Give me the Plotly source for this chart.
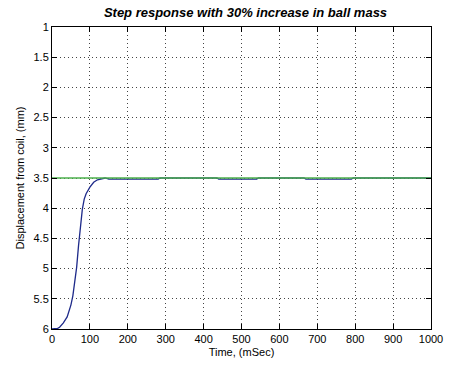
import plotly.graph_objects as go

# Step response (time in mSec, displacement in mm)
time_ms = [0, 10, 15, 20, 30, 40, 50, 55, 60, 65, 70, 75, 80, 85, 90, 100, 110, 120, 130, 140,
           150, 280, 285, 435, 440, 540, 545, 665, 670, 790, 795, 1000]
displacement_mm = [6.0, 6.0, 5.99, 5.97, 5.9, 5.8, 5.6, 5.45, 5.25, 4.98, 4.62, 4.3, 4.02, 3.85, 3.76, 3.65, 3.57, 3.53, 3.51, 3.5,
                   3.518, 3.518, 3.5, 3.5, 3.518, 3.518, 3.5, 3.5, 3.518, 3.518, 3.5, 3.5]

ref_time = [0, 1000]
ref_value = [3.5, 3.5]

x_ticks = [0, 100, 200, 300, 400, 500, 600, 700, 800, 900, 1000]
y_ticks = [1, 1.5, 2, 2.5, 3, 3.5, 4, 4.5, 5, 5.5, 6]

FONT = "Liberation Sans, Arial, sans-serif"

fig = go.Figure()
fig.add_trace(go.Scatter(x=time_ms, y=displacement_mm, mode="lines",
                         line=dict(color="#1e2a8a", width=1.3), showlegend=False))
fig.add_trace(go.Scatter(x=ref_time, y=ref_value, mode="lines",
                         line=dict(color="#4cb04c", width=1.3), showlegend=False))

axis_common = dict(
    showgrid=True, gridcolor="#444444", griddash="1px,3px", gridwidth=1,
    showline=True, linecolor="#000000", linewidth=1, mirror="ticks",
    ticks="inside", ticklen=5, tickcolor="#000000",
    tickfont=dict(family=FONT, size=11, color="#000000"),
    zeroline=False,
)

fig.update_xaxes(range=[0, 1000], tickvals=x_ticks, ticktext=[str(v) for v in x_ticks],
                 title=dict(text="Time, (mSec)", standoff=4,
                            font=dict(family=FONT, size=11, color="#000000")),
                 **axis_common)
fig.update_yaxes(range=[6, 1], tickvals=y_ticks, ticktext=[f"{v:g}" for v in y_ticks],
                 title=dict(text="Displacement from coil, (mm)", standoff=6,
                            font=dict(family=FONT, size=11, color="#000000")),
                 **axis_common)

fig.update_layout(
    width=455, height=369,
    margin=dict(l=52, r=16, t=27, b=37),
    paper_bgcolor="#ffffff", plot_bgcolor="#ffffff",
    title=dict(text="<b><i>Step response with 30% increase in ball mass</i></b>",
               x=(52 + 439) / 2 / 455, xanchor="center", y=1 - 12 / 369, yanchor="middle",
               font=dict(family=FONT, size=13, color="#000000")),
)

fig.write_html("out.html")
